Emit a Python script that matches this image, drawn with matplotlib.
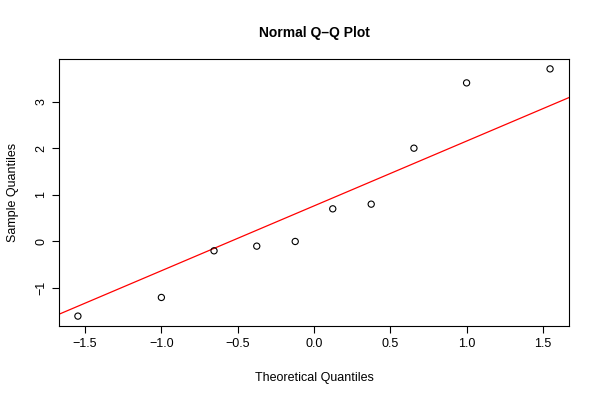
import matplotlib
matplotlib.use("Agg")
import matplotlib.pyplot as plt

theoretical = [-1.547, -1.0, -0.655, -0.375, -0.123, 0.123, 0.375, 0.655, 1.0, 1.547]
sample = [-1.6, -1.2, -0.2, -0.1, 0.0, 0.7, 0.8, 2.0, 3.4, 3.7]
line_intercept = 0.7625
line_slope = 1.390
xticks = [-1.5, -1.0, -0.5, 0.0, 0.5, 1.0, 1.5]
yticks = [-1, 0, 1, 2, 3]

plt.rcParams['font.family'] = ['Liberation Sans', 'DejaVu Sans']
fig = plt.figure(figsize=(6, 4), dpi=100)
ax = fig.add_axes([0.0983, 0.185, 0.85, 0.6675])
ax.scatter(theoretical, sample, s=20, facecolors='none', edgecolors='black', linewidths=0.8, zorder=3)
ax.axline((0, line_intercept), slope=line_slope, color='red', linewidth=0.9)
ax.set_xlim(-1.671, 1.671)
ax.set_ylim(-1.812, 3.912)
ax.set_xticks(xticks)
ax.set_xticklabels(['\u22121.5', '\u22121.0', '\u22120.5', '0.0', '0.5', '1.0', '1.5'])
ax.set_yticks(yticks)
ax.set_yticklabels(['\u22121', '0', '1', '2', '3'], rotation=90, va='center')
ax.tick_params(labelsize=9, length=5, width=0.8, colors='black')
for s in ax.spines.values():
    s.set_linewidth(0.8)
ax.set_xlabel('Theoretical Quantiles', fontsize=9, labelpad=16)
ax.set_ylabel('Sample Quantiles', fontsize=9, labelpad=12)
ax.set_title('Normal Q\u2013Q Plot', fontsize=10, fontweight='bold', pad=16)
fig.savefig('out.png', dpi=100)
